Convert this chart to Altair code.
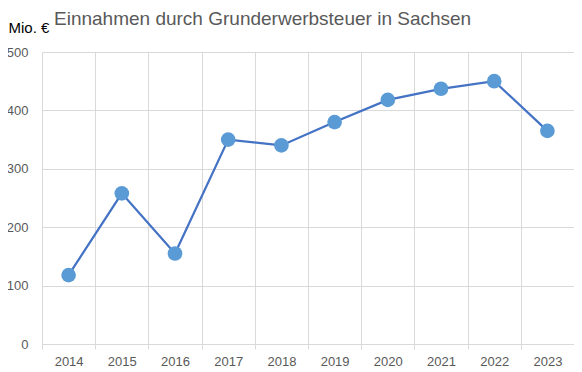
import altair as alt
import pandas as pd

years = ["2014", "2015", "2016", "2017", "2018", "2019", "2020", "2021", "2022", "2023"]
values = [118, 258, 155, 350, 340, 380, 418, 437, 450, 365]
y_ticks = [0, 100, 200, 300, 400, 500]

df = pd.DataFrame({"Jahr": years, "Wert": values})

FONT = "Liberation Sans"
GRID = "#D9D9D9"
LABEL = "#595959"

base = alt.Chart(df).encode(
    x=alt.X(
        "Jahr:O",
        sort=years,
        scale=alt.Scale(paddingInner=0, paddingOuter=0),
        axis=alt.Axis(
            title=None,
            labelAngle=0,
            tickBand="extent",
            grid=True,
            gridColor=GRID,
            ticks=True,
            tickSize=5,
            tickColor=GRID,
            domainColor=GRID,
            labelColor=LABEL,
            labelFont=FONT,
            labelFontSize=13,
            labelPadding=6,
        ),
    ),
    y=alt.Y(
        "Wert:Q",
        scale=alt.Scale(domain=[0, 500], nice=False),
        axis=alt.Axis(
            title="Mio. €",
            titleAngle=0,
            titleAlign="left",
            titleBaseline="alphabetic",
            titleX=-34,
            titleY=-20,
            titleFont=FONT,
            titleFontSize=15,
            titleFontWeight="normal",
            titleColor="#000000",
            values=y_ticks,
            grid=True,
            gridColor=GRID,
            ticks=False,
            domain=False,
            labelColor=LABEL,
            labelFont=FONT,
            labelFontSize=13,
            labelPadding=14,
        ),
    ),
)

line = base.mark_line(color="#4472C4", strokeWidth=2.25)
points = base.mark_circle(color="#5B9BD5", opacity=1, size=215)

chart = (
    alt.layer(line, points)
    .properties(
        width=532,
        height=292,
        autosize=alt.AutoSizeParams(type="none"),
        padding={"left": 34, "top": 44, "right": 0, "bottom": 28},
        title=alt.TitleParams(
            "Einnahmen durch Grunderwerbsteuer in Sachsen",
            anchor="start",
            frame="group",
            dx=12,
            dy=29,
            font=FONT,
            fontSize=19,
            fontWeight="normal",
            color=LABEL,
            offset=20,
        ),
    )
    .configure_view(stroke=None)
)

chart.save("out.html", embed_options={"renderer": "svg", "actions": False})
